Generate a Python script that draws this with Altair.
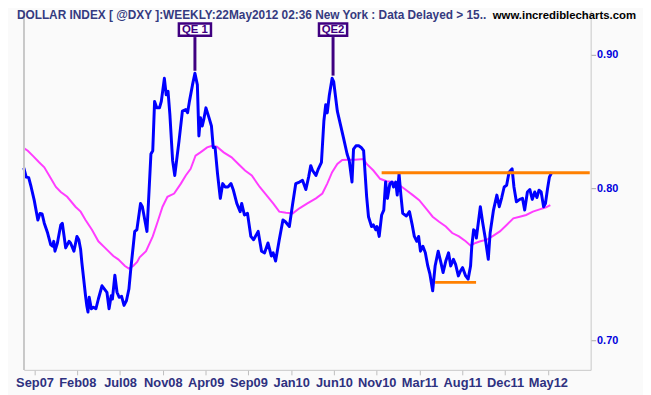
import altair as alt
import pandas as pd

START = "2007-08-27"          # first weekly bar
DOMAIN_DAYS = 1855            # span of the time axis

# Dollar index weekly closes (week offset from START, value)
dxy_points = [
    (0.0, 0.8147), (1.1, 0.8081), (2.3, 0.8077), (3.4, 0.8011), (4.9, 0.7919),
    (6.5, 0.7782), (7.6, 0.7827), (8.5, 0.7823), (9.6, 0.7760), (11.1, 0.7693),
    (12.6, 0.7615), (13.4, 0.7604), (14.0, 0.7637), (14.6, 0.7571), (15.7, 0.7626),
    (16.5, 0.7693), (17.3, 0.7748), (18.0, 0.7759), (18.8, 0.7670), (19.6, 0.7593),
    (21.1, 0.7637), (21.9, 0.7626), (23.4, 0.7571), (24.9, 0.7670), (25.7, 0.7648),
    (26.5, 0.7582), (27.2, 0.7495), (28.0, 0.7387), (28.8, 0.7280), (29.5, 0.7218),
    (30.0, 0.7176), (30.6, 0.7270), (31.6, 0.7197), (32.6, 0.7207), (33.7, 0.7197),
    (34.9, 0.7259), (36.5, 0.7344), (37.7, 0.7323), (38.8, 0.7302), (39.9, 0.7197),
    (40.8, 0.7280), (41.5, 0.7259), (42.6, 0.7413), (43.6, 0.7302), (44.5, 0.7270),
    (45.7, 0.7276), (46.9, 0.7218), (48.0, 0.7249), (49.1, 0.7323), (50.0, 0.7451),
    (51.1, 0.7604), (51.9, 0.7704), (52.8, 0.7715), (54.5, 0.7896), (55.4, 0.7873),
    (56.5, 0.7782), (57.6, 0.7704), (58.5, 0.7988), (59.5, 0.8247), (60.3, 0.8271),
    (61.1, 0.8638), (62.2, 0.8589), (63.4, 0.8589), (64.3, 0.8638), (65.7, 0.8815),
    (66.5, 0.8688), (67.4, 0.8714), (68.3, 0.8539), (69.6, 0.8199), (70.6, 0.8093),
    (71.5, 0.8199), (72.6, 0.8343), (74.2, 0.8564), (75.7, 0.8576), (76.5, 0.8552),
    (77.5, 0.8638), (78.8, 0.8764), (80.0, 0.8854), (81.1, 0.8764), (81.9, 0.8379),
    (82.6, 0.8515), (83.4, 0.8453), (84.2, 0.8502), (85.2, 0.8589), (86.5, 0.8515),
    (87.7, 0.8453), (88.5, 0.8294), (89.5, 0.8294), (90.6, 0.8104), (91.8, 0.7931),
    (93.0, 0.8035), (94.2, 0.8011), (95.4, 0.8011), (96.9, 0.8035), (98.0, 0.7988),
    (99.6, 0.7896), (101.1, 0.7839), (101.9, 0.7896), (103.1, 0.7816), (104.6, 0.7827),
    (106.2, 0.7670), (107.5, 0.7648), (109.6, 0.7704), (111.1, 0.7571), (112.6, 0.7560),
    (114.2, 0.7626), (115.7, 0.7539), (116.5, 0.7560), (117.7, 0.7506), (119.5, 0.7648),
    (121.1, 0.7782), (122.3, 0.7770), (124.2, 0.7737), (125.7, 0.7896), (127.2, 0.8035),
    (128.8, 0.8046), (130.3, 0.8058), (131.9, 0.7993), (133.1, 0.8081), (134.2, 0.8163),
    (135.0, 0.8128), (136.5, 0.8093), (137.7, 0.8140), (139.2, 0.8187), (140.3, 0.8490),
    (141.1, 0.8613), (141.9, 0.8551), (142.9, 0.8689), (144.2, 0.8815), (144.9, 0.8790),
    (146.5, 0.8564), (148.0, 0.8465), (149.5, 0.8367), (151.1, 0.8247), (152.2, 0.8199),
    (153.4, 0.8046), (154.2, 0.8283), (155.3, 0.8307), (156.5, 0.8307), (157.7, 0.8295),
    (158.8, 0.8271), (159.6, 0.8104), (160.3, 0.7942), (161.1, 0.7804), (162.6, 0.7737),
    (163.4, 0.7748), (164.6, 0.7715), (165.2, 0.7737), (166.2, 0.7670), (167.3, 0.7816),
    (168.3, 0.7850), (169.2, 0.8047), (170.0, 0.7931), (171.1, 0.8035), (172.2, 0.8046),
    (172.9, 0.8011), (173.9, 0.8046), (174.5, 0.7954), (175.4, 0.8104), (176.3, 0.7954),
    (177.2, 0.7827), (178.8, 0.7809), (180.3, 0.7839), (181.6, 0.7748), (182.6, 0.7670),
    (183.7, 0.7637), (184.6, 0.7670), (185.4, 0.7571), (186.5, 0.7604), (187.7, 0.7560),
    (188.8, 0.7473), (189.9, 0.7419), (191.1, 0.7312), (192.3, 0.7473), (193.7, 0.7571),
    (195.0, 0.7495), (196.0, 0.7430), (197.3, 0.7506), (198.5, 0.7560), (199.6, 0.7473),
    (200.8, 0.7517), (201.9, 0.7484), (203.1, 0.7408), (204.2, 0.7440), (205.2, 0.7462),
    (206.5, 0.7408), (207.7, 0.7387), (208.8, 0.7473), (209.5, 0.7604), (210.3, 0.7715),
    (211.1, 0.7704), (211.6, 0.7659), (213.4, 0.7873), (214.6, 0.7759), (215.7, 0.7659),
    (217.2, 0.7517), (218.0, 0.7693), (219.6, 0.7850), (221.1, 0.7954), (222.3, 0.7873),
    (223.4, 0.7937), (224.5, 0.8011), (225.7, 0.8023), (226.9, 0.8116), (228.3, 0.8140),
    (229.2, 0.8011), (230.3, 0.7907), (231.9, 0.7924), (233.1, 0.7931), (234.2, 0.7850),
    (235.4, 0.7976), (236.5, 0.7993), (237.7, 0.7924), (238.8, 0.7976), (239.9, 0.7937),
    (240.8, 0.7988), (241.8, 0.7976), (243.0, 0.7873), (243.9, 0.7896), (244.9, 0.8000),
    (245.7, 0.8081), (246.8, 0.8116),
]

# Moving average (week offset, value)
ma_points = [
    (0.0, 0.8290), (1.8, 0.8271), (4.2, 0.8235), (7.2, 0.8187), (9.6, 0.8151),
    (11.9, 0.8093), (15.0, 0.8011), (17.3, 0.7976), (20.3, 0.7942), (24.2, 0.7873),
    (26.5, 0.7839), (28.8, 0.7782), (31.8, 0.7715), (34.9, 0.7637), (38.0, 0.7593),
    (41.9, 0.7539), (44.2, 0.7517), (47.3, 0.7473), (49.1, 0.7456), (51.1, 0.7473),
    (53.0, 0.7500), (54.2, 0.7530), (57.2, 0.7571), (60.3, 0.7670), (62.6, 0.7770),
    (64.9, 0.7873), (67.2, 0.7942), (70.3, 0.7965), (73.4, 0.8035), (75.7, 0.8093),
    (78.0, 0.8140), (80.3, 0.8235), (82.6, 0.8259), (85.7, 0.8295), (88.0, 0.8307),
    (90.3, 0.8300), (93.4, 0.8259), (97.2, 0.8223), (100.3, 0.8175), (103.4, 0.8128),
    (106.5, 0.8093), (110.3, 0.8011), (113.4, 0.7954), (116.5, 0.7896), (119.5, 0.7839),
    (122.6, 0.7832), (125.7, 0.7827), (128.8, 0.7862), (132.6, 0.7896), (136.5, 0.7931),
    (139.6, 0.7965), (141.9, 0.8035), (144.2, 0.8116), (146.5, 0.8175), (148.8, 0.8204),
    (151.8, 0.8206), (154.9, 0.8206), (158.8, 0.8211), (160.3, 0.8175), (163.4, 0.8128),
    (166.5, 0.8069), (169.6, 0.8052), (172.6, 0.8046), (175.7, 0.8023), (178.8, 0.7988),
    (181.8, 0.7954), (184.9, 0.7919), (188.0, 0.7862), (191.1, 0.7804), (194.2, 0.7770),
    (197.3, 0.7737), (200.3, 0.7693), (203.4, 0.7670), (206.5, 0.7637), (208.8, 0.7608),
    (211.1, 0.7626), (213.4, 0.7637), (216.5, 0.7648), (219.6, 0.7675), (222.6, 0.7704),
    (225.7, 0.7748), (228.8, 0.7793), (231.9, 0.7804), (234.9, 0.7816), (238.0, 0.7839),
    (241.1, 0.7855), (244.2, 0.7869), (246.2, 0.7885),
]

tick_weeks = [5, 25, 45, 65, 85, 105, 125, 145, 165, 185, 205, 225, 245]
tick_labels = ["Sep07", "Feb08", "Jul08", "Nov08", "Apr09", "Sep09", "Jan10",
               "Jun10", "Nov10", "Mar11", "Aug11", "Dec11", "May12"]
y_ticks = [0.70, 0.80, 0.90]
y_domain = [0.6820, 0.9358]

qe_labels = ["QE 1", "QE2"]
qe_weeks = [80.0, 144.6]
qe_values = [0.8874, 0.8836]

level_start_weeks = [167.3, 192.3]
level_end_weeks = [264.6, 211.4]
level_values = [0.8112, 0.7366]

TITLE = "DOLLAR INDEX [ @DXY ]:WEEKLY:22May2012 02:36 New York : Data Delayed > 15.."
SITE = "www.incrediblecharts.com"

start = pd.Timestamp(START)


def wk_ts(w):
    return start + pd.Timedelta(days=round(w * 7))


def wk2str(w):
    return wk_ts(w).strftime("%Y-%m-%dT%H:%M:%S")


def dtobj(ts):
    return alt.DateTime(year=ts.year, month=ts.month, date=ts.day)


dxy_df = pd.DataFrame({"date": [wk2str(w) for w, _ in dxy_points],
                       "value": [v for _, v in dxy_points]})
ma_df = pd.DataFrame({"date": [wk2str(w) for w, _ in ma_points],
                      "value": [v for _, v in ma_points]})
lvl_df = pd.DataFrame({"date": [wk2str(w) for w in level_start_weeks],
                       "date2": [wk2str(w) for w in level_end_weeks],
                       "value": level_values})
qe_df = pd.DataFrame({"date": [wk2str(w) for w in qe_weeks],
                      "value": qe_values, "label": qe_labels})

# label expression mapping tick positions to their labels
parts = []
for k in range(len(tick_weeks) - 1):
    mid = wk_ts((tick_weeks[k] + tick_weeks[k + 1]) / 2)
    parts.append(f"datum.value < datetime({mid.year},{mid.month - 1},{mid.day}) ? '{tick_labels[k]}' : ")
label_expr = "".join(parts) + f"'{tick_labels[-1]}'"

x_scale = alt.Scale(domain=[dtobj(start), dtobj(start + pd.Timedelta(days=DOMAIN_DAYS))], nice=False)
y_scale = alt.Scale(type="log", domain=y_domain, nice=False, zero=False)

NARROW = "Liberation Sans Narrow, Arial Narrow, Liberation Sans, sans-serif"
SANS = "Liberation Sans, Arial, sans-serif"

x_axis = alt.Axis(values=[dtobj(wk_ts(w)) for w in tick_weeks], labelExpr=label_expr,
                  title=None, grid=False, tickSize=5, tickColor="#BDBDBD",
                  domainColor="#C8C8C8", labelFont=NARROW, labelFontWeight="bold",
                  labelFontSize=13, labelColor="#2E3180", labelPadding=2,
                  labelOverlap=False, labelFlush=False)
y_axis = alt.Axis(orient="right", values=y_ticks, format=".2f", title=None, grid=False,
                  tickSize=5, tickColor="#A8A8A8", domainColor="#C8C8C8",
                  labelFont=SANS, labelFontWeight="bold", labelFontSize=11,
                  labelColor="#0000DD", labelPadding=1)

X = alt.X("date:T", scale=x_scale, axis=x_axis)
Y = alt.Y("value:Q", scale=y_scale, axis=y_axis)

ma_line = alt.Chart(ma_df).mark_line(color="#FF3CFF", strokeWidth=2).encode(x=X, y=Y)
dxy_line = alt.Chart(dxy_df).mark_line(color="#0000FF", strokeWidth=3, strokeJoin="round").encode(x=X, y=Y)
levels = alt.Chart(lvl_df).mark_rule(color="#FF8000", strokeWidth=3).encode(x=X, x2="date2:T", y=Y)

PURPLE = "#3F0080"
qe_rule = alt.Chart(qe_df).mark_rule(color=PURPLE, strokeWidth=3).encode(x=X, y=Y, y2=alt.value(27))

box_layers = []
for lab, bw in zip(qe_labels, [32.5, 28.5]):
    bh = 12.5
    r = bh / bw
    path = f"M-1,-{r:.4f}L1,-{r:.4f}L1,{r:.4f}L-1,{r:.4f}Z"
    box_layers.append(
        alt.Chart(qe_df).transform_filter(alt.datum.label == lab)
        .mark_point(shape=path, size=bw * bw, filled=True, fill="white", stroke=PURPLE,
                    strokeWidth=2.5, opacity=1)
        .encode(x=X, y=alt.value(19.5))
    )
qe_text = alt.Chart(qe_df).mark_text(font=SANS, fontWeight="bold", fontSize=11.5, color=PURPLE,
                                     baseline="middle").encode(x=X, y=alt.value(20), text="label:N")

left_border = alt.Chart(dxy_df).mark_rule(color="#C8C8C8", strokeWidth=1).encode(
    x=alt.value(0), y=alt.value(0), y2=alt.value(364))

title = alt.Chart(dxy_df.head(1)).mark_text(text=TITLE, align="left", baseline="alphabetic",
                                            font=NARROW, fontWeight="bold", fontSize=12,
                                            color="#353A80").encode(x=alt.value(-7), y=alt.value(9))
site = alt.Chart(dxy_df.head(1)).mark_text(text=SITE, align="right", baseline="alphabetic",
                                           font=SANS, fontWeight="bold", fontSize=11.5,
                                           color="#000000").encode(x=alt.value(620), y=alt.value(8.5))

chart = alt.layer(ma_line, dxy_line, levels, qe_rule, *box_layers, qe_text,
                  left_border, title, site).properties(
    width=574, height=364,
    padding={"left": 16, "top": 0, "right": 53, "bottom": 23},
    autosize=alt.AutoSizeParams(type="none"),
    background="#FAFAFA",
).configure_view(stroke=None)

chart.save("out.html", embed_options={"renderer": "svg", "actions": False})
